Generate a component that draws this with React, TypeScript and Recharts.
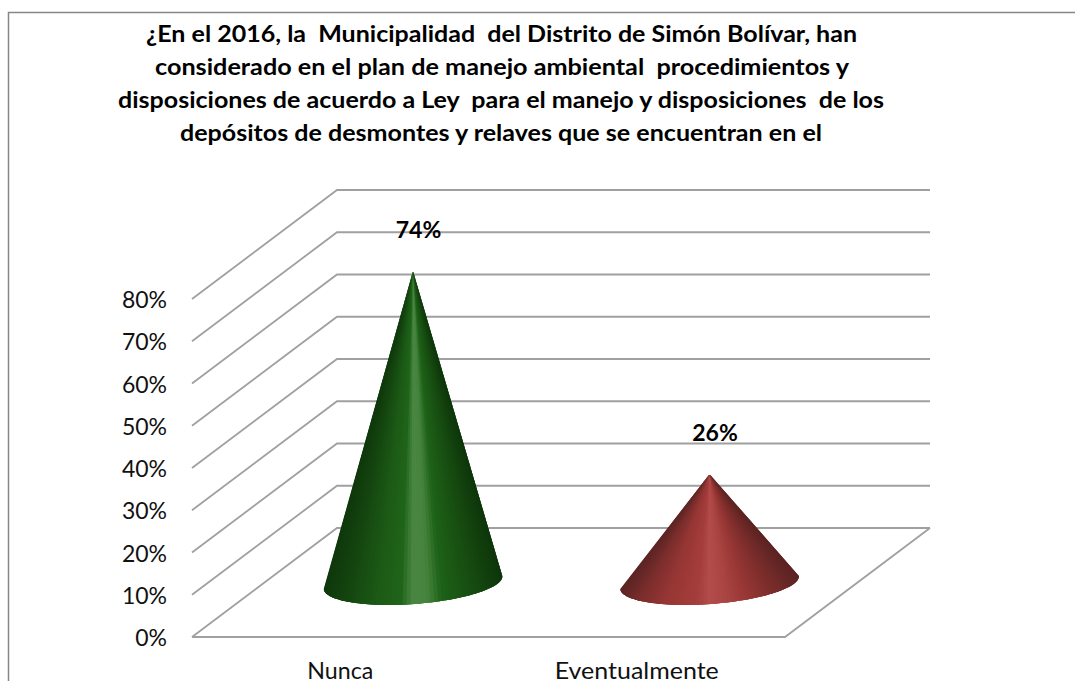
import { BarChart, Bar, XAxis, YAxis, CartesianGrid, LabelList } from 'recharts';

const categories = ['Nunca', 'Eventualmente'];
const percentages = [74, 26];
const yTicks = [0, 10, 20, 30, 40, 50, 60, 70, 80];
const titleLines = [
  '¿En el 2016, la  Municipalidad  del Distrito de Simón Bolívar, han',
  'considerado en el plan de manejo ambiental  procedimientos y',
  'disposiciones de acuerdo a Ley  para el manejo y disposiciones  de los',
  'depósitos de desmontes y relaves que se encuentran en el',
];

const chartData = categories.map((name, i) => ({ name, value: percentages[i] }));

const FONT = 'Lato, Carlito, sans-serif';
const GRID = '#a0a0a0';
// 3D offset of the back wall from the front plane
const DEPTH_X = 145;
const DEPTH_Y = 109;

// colour stops across the cone, left edge to right edge
const greenStops: [number, number[]][] = [
  [0, [15, 56, 12]],
  [0.12, [20, 68, 15]],
  [0.3, [28, 90, 22]],
  [0.43, [32, 100, 26]],
  [0.5, [72, 134, 66]],
  [0.58, [70, 132, 62]],
  [0.66, [30, 98, 24]],
  [0.85, [22, 74, 16]],
  [1, [14, 54, 11]],
];
const redStops: [number, number[]][] = [
  [0, [92, 36, 35]],
  [0.1, [120, 45, 44]],
  [0.25, [150, 54, 52]],
  [0.43, [165, 62, 60]],
  [0.5, [178, 76, 74]],
  [0.58, [172, 70, 68]],
  [0.72, [150, 54, 52]],
  [0.88, [118, 44, 42]],
  [1, [92, 36, 35]],
];
const coneStops = [greenStops, redStops];

function shade(stops: [number, number[]][], f: number) {
  for (let i = 1; i < stops.length; i++) {
    if (f <= stops[i][0]) {
      const [a, ca] = stops[i - 1];
      const [b, cb] = stops[i];
      const k = (f - a) / (b - a);
      const c = ca.map((v, j) => Math.round(v + (cb[j] - v) * k));
      return `rgb(${c[0]},${c[1]},${c[2]})`;
    }
  }
  const last = stops[stops.length - 1][1];
  return `rgb(${last[0]},${last[1]},${last[2]})`;
}

// Cone drawn as a fan of overlapping slices so the highlight converges on the tip
function Cone(props: any) {
  const { x, y, width, height, index } = props;
  const cx = x + width / 2 + DEPTH_X / 2;
  const baseY = y + height - DEPTH_Y / 2;
  const tipY = y - DEPTH_Y / 2 + 1.5;
  const rx = width / 2;
  const ry = 21.5;
  const rot = (-4.2 * Math.PI) / 180;
  const point = (t: number) => {
    const ex = rx * Math.cos(t);
    const ey = ry * Math.sin(t);
    return [cx + ex * Math.cos(rot) - ey * Math.sin(rot), baseY + ex * Math.sin(rot) + ey * Math.cos(rot)];
  };
  const slices = [];
  const count = 70;
  const angle = (i: number) => Math.PI - (Math.PI * Math.min(i, count)) / count;
  for (let i = 0; i < count; i++) {
    const mid = point((angle(i) + angle(i + 1)) / 2);
    const color = shade(coneStops[index], (mid[0] - (cx - rx)) / (2 * rx));
    // each slice runs under the next few, which hides the seams
    let d = `M${cx},${tipY}`;
    for (let j = i; j <= i + 3; j++) {
      const p = point(angle(j));
      d += ` L${p[0]},${p[1]}`;
    }
    slices.push(<path key={i} d={d + ' Z'} fill={color} />);
  }
  return <g>{slices}</g>;
}

// One wall line: front edge up to the back wall, then across it
function WallLine(props: any) {
  const { x1, x2, y1 } = props;
  const backY = y1 - DEPTH_Y;
  const isFloor = y1 > 630;
  return (
    <g key={props.key} fill="none" stroke={GRID} strokeWidth={1.8}>
      <path d={`M${x1},${y1} L${x1 + DEPTH_X},${backY} L${x2 + DEPTH_X},${backY}`} />
      {isFloor && <path d={`M${x1},${y1} L${x2},${y1} L${x2 + DEPTH_X},${backY}`} />}
    </g>
  );
}

function ConeLabel(props: any) {
  const { x, y, width, value } = props;
  return (
    <text
      x={x + width / 2 + DEPTH_X / 2 + 5.5}
      y={y - DEPTH_Y / 2 - 32}
      textAnchor="middle"
      fontFamily={FONT}
      fontWeight={700}
      fontSize={23}
      fill="#000"
    >
      {value}%
    </text>
  );
}

const xLabelWidth = [66, 164];

function CategoryTick(props: any) {
  const { x, y, payload, index } = props;
  return (
    <text
      x={x}
      y={y}
      textAnchor="middle"
      fontFamily={FONT}
      fontSize={23}
      fill="#111"
      textLength={xLabelWidth[index]}
      lengthAdjust="spacingAndGlyphs"
    >
      {payload.value}
    </text>
  );
}

const titleLeft = [146, 155, 118, 180];
const titleWidth = [711, 694, 766, 642];

export default function App() {
  return (
    <div style={{ position: 'absolute', left: 0, top: 0, width: 1075, height: 681, overflow: 'hidden', background: '#fff' }}>
      <BarChart
        width={1075}
        height={681}
        data={chartData}
        margin={{ top: 299, right: 290, bottom: 0, left: 0 }}
      >
        <CartesianGrid vertical={false} horizontal={WallLine} />
        <XAxis
          dataKey="name"
          height={44}
          axisLine={false}
          tickLine={false}
          tickSize={0}
          tickMargin={42}
          interval={0}
          tick={CategoryTick}
        />
        <YAxis
          width={192}
          domain={[0, 80]}
          ticks={yTicks}
          tickFormatter={(v: number) => `${v}%`}
          axisLine={false}
          tickLine={false}
          tickSize={0}
          tickMargin={25}
          tick={{ fontFamily: FONT, fontSize: 23, fill: '#111', dy: 1 }}
        />
        <Bar dataKey="value" barSize={179} shape={Cone} isAnimationActive={false}>
          <LabelList dataKey="value" content={ConeLabel} />
        </Bar>
      </BarChart>
      <svg width={1075} height={681} style={{ position: 'absolute', left: 0, top: 0, pointerEvents: 'none' }}>
        <path d="M1075,12.5 L8.5,12.5 L8.5,681" fill="none" stroke="#868686" strokeWidth={1.5} />
        {titleLines.map((line, i) => (
          <text
            key={i}
            x={titleLeft[i]}
            y={42 + i * 33}
            fontFamily={FONT}
            fontWeight={700}
            fontSize={22}
            fill="#000"
            textLength={titleWidth[i]}
            lengthAdjust="spacingAndGlyphs"
            style={{ whiteSpace: 'pre' }}
          >
            {line}
          </text>
        ))}
      </svg>
    </div>
  );
}
